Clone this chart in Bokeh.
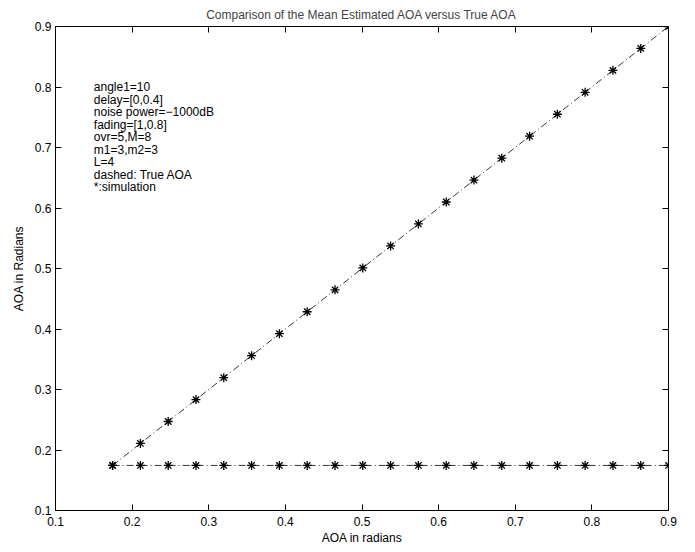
from bokeh.plotting import figure
from bokeh.models import LinearAxis, Range1d, FixedTicker
from bokeh.embed import file_html
from bokeh.resources import INLINE
from bokeh.core.properties import value

# data
true_aoa = [0.1745, 0.2108, 0.2471, 0.2833, 0.3196, 0.3559, 0.3922, 0.4285,
            0.4648, 0.5010, 0.5373, 0.5736, 0.6099, 0.6461, 0.6824, 0.7187,
            0.7550, 0.7912, 0.8275, 0.8638, 0.9000]
diag_est = [0.1745, 0.2108, 0.2471, 0.2833, 0.3196, 0.3559, 0.3922, 0.4285,
            0.4648, 0.5010, 0.5373, 0.5736, 0.6099, 0.6461, 0.6824, 0.7187,
            0.7550, 0.7912, 0.8275, 0.8638, 0.9000]
sim_est = [0.1745] * 21
ticks = [0.1, 0.2, 0.3, 0.4, 0.5, 0.6, 0.7, 0.8, 0.9]
notes = ["angle1=10", "delay=[0,0.4]", "noise power=\u22121000dB", "fading=[1,0.8]",
         "ovr=5,M=8", "m1=3,m2=3", "L=4", "dashed: True AOA", "*:simulation"]

FONT = "Liberation Sans"
FS = "12px"

p = figure(frame_width=613, frame_height=484, output_backend="svg", toolbar_location=None,
           x_range=Range1d(0.1, 0.9), y_range=Range1d(0.1, 0.9),
           min_border_left=55, min_border_right=10, min_border_top=21, min_border_bottom=5,
           title="Comparison of the Mean Estimated AOA versus True AOA")
p.title.align = "center"
p.title.text_font = FONT
p.title.text_font_size = FS
p.title.text_font_style = "normal"
p.title.standoff = 10
p.grid.visible = False
p.outline_line_color = "black"
p.outline_line_width = 1
p.background_fill_color = "white"
p.border_fill_color = "white"

for ax in [p.xaxis[0], p.yaxis[0]]:
    ax.ticker = FixedTicker(ticks=ticks)
    ax.major_tick_in = 6
    ax.major_tick_out = 0
    ax.minor_tick_line_color = None
    ax.axis_line_color = "black"
    ax.major_tick_line_color = "black"
    ax.major_label_text_font = FONT
    ax.major_label_text_font_size = FS
    ax.major_label_text_color = "black"
    ax.axis_label_text_font = FONT
    ax.axis_label_text_font_size = FS
    ax.axis_label_text_font_style = "normal"
    ax.axis_label_text_color = "black"
p.xaxis.axis_label = "AOA in radians"
p.yaxis.axis_label = "AOA in Radians"
p.xaxis.major_label_standoff = 6
p.xaxis.axis_label_standoff = 2
p.yaxis.major_label_standoff = 4
p.yaxis.axis_label_standoff = 6

for loc in ["above", "right"]:
    ax = LinearAxis(ticker=FixedTicker(ticks=ticks), major_tick_in=6, major_tick_out=0,
                    minor_tick_line_color=None, major_label_text_color=None,
                    major_label_overrides={t: "" for t in ticks},
                    major_label_text_font_size="1px",
                    major_label_standoff=0, axis_line_color="black")
    p.add_layout(ax, loc)

p.line(true_aoa, diag_est, line_color="black", line_width=0.8, line_dash="7 3 1 3")
p.scatter(true_aoa, diag_est, marker="asterisk", size=9, line_color="black", line_width=1.3)
p.line(true_aoa, sim_est, line_color="black", line_width=0.8, line_dash="7 3 1 3")
p.scatter(true_aoa, sim_est, marker="asterisk", size=9, line_color="black", line_width=1.3)

y0 = 0.800
dy = 0.0207
xs = [0.15] * len(notes)
ys = [y0 - i * dy for i in range(len(notes))]
p.text(xs, ys, text=notes, text_font=value(FONT), text_font_size=FS,
       text_baseline="middle", text_align="left", text_color="black")

open("out.html", "w").write(file_html(p, INLINE))
